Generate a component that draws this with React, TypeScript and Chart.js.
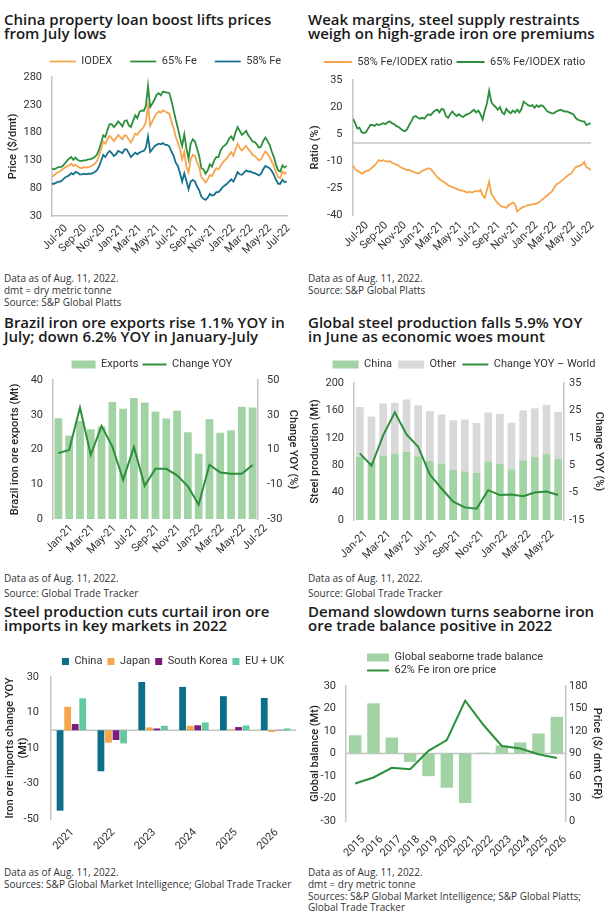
import React, { useEffect, useRef } from "react";
import { Chart, registerables } from "chart.js";
Chart.register(...registerables);

const FONT = "Roboto, 'Liberation Sans', Arial, sans-serif";
const TEXT_FONT = "'Open Sans', Roboto, Arial, sans-serif";
Chart.defaults.font.family = FONT;
Chart.defaults.font.size = 11;
Chart.defaults.color = "#333333";

const ORANGE = "#f6a54c";
const GREEN = "#2c8f3b";
const TEAL = "#17718c";
const LIGHT_GREEN = "#a2d3a4";
const GRAY_BAR = "#d9d9d9";
const AXIS = "#c4c4c4";
const CN_BLUE = "#0b6f89";
const JP_ORANGE = "#f5a54b";
const KR_PURPLE = "#7b1e7b";
const EU_MINT = "#63c9a0";

// ---------- Panel 1: weekly prices ($/dmt), from 1 Jul 2020 ----------
const WEEK_STEP_DAYS = 7;
const IODEX = [101,103,107,109,111,114,117,119,121,124,120,122,119,117,116,118,117,118,119,121,124,128,138,150,164,160,168,174,170,165,170,176,172,168,175,174,167,162,170,178,176,182,186,190,200,228,192,200,208,214,218,216,220,218,216,214,200,188,172,162,150,132,145,118,108,132,140,138,126,118,100,96,90,96,104,102,110,116,114,120,126,130,134,140,145,138,150,160,152,148,152,156,150,146,140,138,134,130,132,140,146,142,136,128,120,108,100,98,110,106,108];
const FE65 = [115,114,116,118,118,120,124,129,133,136,131,135,131,129,129,130,130,132,132,134,136,140,149,161,175,172,185,195,195,190,194,200,196,191,201,202,193,190,201,211,206,217,220,219,228,264,226,232,239,248,251,247,254,253,252,251,237,220,203,188,170,156,177,152,133,160,168,164,151,138,116,114,106,112,123,119,130,136,136,148,154,157,161,169,173,167,180,190,183,176,179,183,175,170,164,163,159,153,155,165,171,165,158,146,136,122,112,110,121,117,120];
const FE58 = [88,88,90,92,92,95,99,101,103,107,105,109,108,105,105,106,105,106,106,107,109,112,119,129,140,136,143,147,143,138,141,147,145,143,150,150,143,136,140,144,141,144,146,147,153,173,145,150,155,158,160,159,161,158,158,155,146,138,126,120,107,92,107,93,78,92,95,92,83,76,65,61,59,63,70,67,68,73,73,77,82,85,88,92,96,92,100,109,105,104,108,112,110,110,108,107,105,103,106,114,120,118,116,111,104,95,88,88,95,91,92];
const DATE_TICKS = ["Jul-20","Sep-20","Nov-20","Jan-21","Mar-21","May-21","Jul-21","Sep-21","Nov-21","Jan-22","Mar-22","May-22","Jul-22"];

// ---------- Panel 2: weekly ratios (%) ----------
const R58 = [-12.5,-14.5,-15.5,-16,-17,-16.5,-15.5,-15.5,-14.5,-13.5,-12.5,-11,-9.5,-10,-9.5,-10,-10.5,-10,-11,-11.5,-12,-12.5,-13.5,-14,-14.5,-15,-15,-15.5,-16,-16.5,-17,-16.5,-15.5,-15,-14.5,-14,-14.5,-16,-17.5,-19,-20,-21,-21.5,-22.5,-23.5,-24,-24.5,-25,-25.5,-26,-26.5,-26.5,-27,-27.5,-27,-27.5,-27,-26.5,-27,-26,-29,-30.5,-26,-21.5,-28,-30,-32,-33.5,-34.5,-35.5,-35.5,-36,-34.5,-34,-33,-34,-38,-37,-36,-35.5,-35,-34.5,-34.5,-34,-34,-33.5,-33,-32,-31,-30,-29,-28,-27,-25,-23,-22.5,-21.5,-20.5,-19.5,-18.5,-17.5,-17,-15,-13.5,-13,-12.5,-12,-10.5,-13.5,-14,-15];
const R65 = [13.5,11,8,8.5,6,5.5,6,8,10,10,9.5,10.5,10,10.5,11,10.5,11.5,12,11,10.5,9.5,9,8,7,6.5,7.5,10,12,14.5,15,14,13.5,14,13.5,15,16,15.5,17,18,18.5,17,19,18.5,15,14,16,17.5,16,15,16,15,14.5,15.5,16,16.5,17.5,18.5,17,18,16,13,18,22,29,23,21,20,18.5,20,17,16,19,17.5,16.5,18,17,18.5,17,19,23,22,21,20.5,21,19.5,21,20,21,20.5,19,17.5,17,16.5,16.5,17.5,18,18.5,18,17.5,17.5,17,16.5,16,14,13,12.5,12,12,10,10.5,11];

// ---------- Panel 3: Brazil exports ----------
const BR_MONTHS = ["Jan-21","Feb-21","Mar-21","Apr-21","May-21","Jun-21","Jul-21","Aug-21","Sep-21","Oct-21","Nov-21","Dec-21","Jan-22","Feb-22","Mar-22","Apr-22","May-22","Jun-22","Jul-22"];
const BR_EXPORTS = [29,24,28.2,25.8,26.6,33.7,31.7,34.8,33.5,30.9,28.9,31.2,25,18.8,28.7,24.8,25.5,32.3,32.1];
const BR_YOY = [7.9,9.8,34.1,6.9,23.6,11.7,-7.4,11.3,-10.9,-1.1,-1.1,-4.9,-11.2,-21.8,1.2,-3.2,-4,-4,1.1];

// ---------- Panel 4: steel production ----------
const ST_MONTHS = ["Jan-21","Feb-21","Mar-21","Apr-21","May-21","Jun-21","Jul-21","Aug-21","Sep-21","Oct-21","Nov-21","Dec-21","Jan-22","Feb-22","Mar-22","Apr-22","May-22","Jun-22"];
const ST_CHINA = [92,85,94,97,99.5,93,86,82.5,73,71,69,85.5,82.5,74,87,92,96,89];
const ST_OTHER = [73,66,76,74,76.5,74.5,73,71.5,72.6,75.6,72.7,71.5,72.5,68,73,71,72,69];
const ST_YOY = [9.3,4.8,15.9,24.3,16.2,11.7,1.6,-3.5,-8.3,-10.4,-10.9,-4.1,-5.9,-5.7,-6.3,-5,-4.6,-5.9];

// ---------- Panel 5: imports change ----------
const IMP_YEARS = ["2021","2022","2023","2024","2025","2026"];
const IMP_CHINA = [-45.3,-23.1,27.2,24.4,19.2,18.2];
const IMP_JAPAN = [13.2,-7,1.6,2.5,0.4,-1];
const IMP_KOREA = [3.5,-5.5,1,2.8,1.8,0.2];
const IMP_EUUK = [18,-7.4,2.5,4.4,2.7,1];

// ---------- Panel 6: seaborne balance ----------
const BAL_YEARS = ["2015","2016","2017","2018","2019","2020","2021","2022","2023","2024","2025","2026"];
const BAL_MT = [8.1,22.3,7.1,-3.7,-10.1,-15.2,-22,0.4,3.6,4.9,8.9,16.3];
const BAL_PRICE = [50,58,71,69,93.5,108,160.4,128,100,96.7,89,84];

const MONTHS: Record<string, number> = { Jan: 0, Feb: 1, Mar: 2, Apr: 3, May: 4, Jun: 5, Jul: 6, Aug: 7, Sep: 8, Oct: 9, Nov: 10, Dec: 11 };
const dayOf = (label: string) => {
  const [m, y] = label.split("-");
  return (Date.UTC(2000 + Number(y), MONTHS[m], 1) - Date.UTC(2020, 6, 1)) / 86400000;
};
const weekly = (arr: number[]) => arr.map((v, i) => ({ x: i * WEEK_STEP_DAYS, y: v }));

const legendShift = {
  id: "legendShift",
  afterLayout(chart: any, _a: any, opts: any) {
    const lg = chart.legend;
    if (!lg || !opts) return;
    const dx = opts.dx || 0, dy = opts.dy || 0;
    lg.left += dx; lg.right += dx; lg.top += dy; lg.bottom += dy;
  },
};
const zeroLine = {
  id: "zeroLine",
  beforeDatasetsDraw(chart: any, _a: any, opts: any) {
    if (!opts || !opts.axis) return;
    const s = chart.scales[opts.axis];
    const y = s.getPixelForValue(0);
    const { left, right } = chart.chartArea;
    const ctx = chart.ctx;
    ctx.save();
    ctx.strokeStyle = AXIS;
    ctx.lineWidth = 1.5;
    ctx.beginPath();
    ctx.moveTo(left, y);
    ctx.lineTo(right, y);
    ctx.stroke();
    ctx.restore();
  },
};

const fixW = (w: number) => (s: any) => { s.width = w; };
const fixH = (h: number) => (s: any) => { s.height = h; };
const noGrid = { display: false, drawTicks: false };
const border = { display: true, color: AXIS, width: 1.5 };
const noBorder = { display: false };
const yTitle = (text: any, pad: number) => ({
  display: true, text, color: "#262626",
  font: { size: 11, weight: "500" as any }, padding: { top: pad, bottom: 0 },
});
const legendLabels = (extra: any) => ({
  usePointStyle: true, color: "#333333", font: { size: 11 }, ...extra,
});
const rotTicks = (pad: number, offset: number, extra: any = {}) => ({
  autoSkip: false, maxRotation: 45, minRotation: 45, padding: pad, labelOffset: offset, color: "#333333", font: { size: 11 }, ...extra,
});
const byIndex = (a: any, b: any) => a.datasetIndex - b.datasetIndex;

const dateAxis = (pad: number) => ({
  type: "linear", min: 0, max: 771,
  grid: noGrid,
  afterBuildTicks: (s: any) => { s.ticks = DATE_TICKS.map((l) => ({ value: dayOf(l) })); },
  ticks: rotTicks(pad, 14, { callback: (_v: any, i: number) => DATE_TICKS[i] }),
  afterFit: fixH(45),
});

function makeP1(): any {
  return {
    type: "line",
    data: {
      datasets: [
        { label: "IODEX", data: weekly(IODEX), borderColor: ORANGE, backgroundColor: ORANGE, borderWidth: 1.8, pointRadius: 0, pointStyle: "line" },
        { label: "65% Fe", data: weekly(FE65), borderColor: GREEN, backgroundColor: GREEN, borderWidth: 1.8, pointRadius: 0, pointStyle: "line" },
        { label: "58% Fe", data: weekly(FE58), borderColor: TEAL, backgroundColor: TEAL, borderWidth: 1.8, pointRadius: 0, pointStyle: "line" },
      ],
    },
    options: {
      responsive: false, animation: false,
      layout: { padding: { left: 0, right: 17, top: 0, bottom: 0 } },
      plugins: {
        legend: { labels: legendLabels({ pointStyleWidth: 26, boxHeight: 11, padding: 18 }) },
        tooltip: { enabled: false },
        legendShift: { dx: 22, dy: 0 },
      },
      scales: {
        x: { ...dateAxis(6), border },
        y: { min: 30, max: 280, grid: noGrid, border, ticks: { stepSize: 50, padding: 10 }, title: yTitle("Price ($/dmt)", 6.4), afterFit: fixW(52) },
      },
    },
    plugins: [legendShift],
  };
}

function makeP2(): any {
  return {
    type: "line",
    data: {
      datasets: [
        { label: "58% Fe/IODEX ratio", data: weekly(R58), borderColor: ORANGE, backgroundColor: ORANGE, borderWidth: 1.8, pointRadius: 0, pointStyle: "line" },
        { label: "65% Fe/IODEX ratio", data: weekly(R65), borderColor: GREEN, backgroundColor: GREEN, borderWidth: 1.8, pointRadius: 0, pointStyle: "line" },
      ],
    },
    options: {
      responsive: false, animation: false,
      layout: { padding: { left: 0, right: 17, top: 0, bottom: 0 } },
      plugins: {
        legend: { labels: legendLabels({ pointStyleWidth: 28, boxHeight: 11, padding: 4 }) },
        tooltip: { enabled: false },
        legendShift: { dx: 7, dy: -2.5 },
        zeroLine: { axis: "y" },
      },
      scales: {
        x: { ...dateAxis(4), border: noBorder },
        y: { min: -40, max: 35, grid: noGrid, border, ticks: { stepSize: 15, padding: 10.5 }, title: yTitle("Ratio (%)", 5), afterFit: fixW(49) },
      },
    },
    plugins: [legendShift, zeroLine],
  };
}

function makeP3(): any {
  return {
    type: "bar",
    data: {
      labels: BR_MONTHS,
      datasets: [
        { type: "bar", label: "Exports", data: BR_EXPORTS, backgroundColor: LIGHT_GREEN, pointStyle: "rect", barPercentage: 0.72, categoryPercentage: 1, yAxisID: "y", order: 2 },
        { type: "line", label: "Change YOY", data: BR_YOY, borderColor: GREEN, backgroundColor: GREEN, borderWidth: 2, pointRadius: 0, pointStyle: "line", yAxisID: "y1", order: 1 },
      ],
    },
    options: {
      responsive: false, animation: false,
      layout: { padding: 0 },
      plugins: {
        legend: { labels: legendLabels({ pointStyleWidth: 24, boxHeight: 8, padding: 4, sort: byIndex }) },
        tooltip: { enabled: false },
        legendShift: { dx: 0, dy: 0 },
      },
      scales: {
        x: { grid: noGrid, border: noBorder, ticks: rotTicks(3, 13, { callback: (_v: any, i: number) => (i % 2 === 0 ? BR_MONTHS[i] : "") }), afterFit: fixH(45) },
        y: { position: "left", min: 0, max: 40, grid: noGrid, border, ticks: { stepSize: 10, padding: 10 }, title: yTitle("Brazil iron ore exports (Mt)", 8.4), afterFit: fixW(53) },
        y1: { position: "right", min: -30, max: 50, grid: noGrid, border, ticks: { stepSize: 20, padding: 9 }, title: yTitle("Change YOY (%)", 4.4), afterFit: fixW(46) },
      },
    },
    plugins: [legendShift],
  };
}

function makeP4(): any {
  return {
    type: "bar",
    data: {
      labels: ST_MONTHS,
      datasets: [
        { type: "bar", label: "China", data: ST_CHINA, backgroundColor: LIGHT_GREEN, pointStyle: "rect", barPercentage: 0.66, categoryPercentage: 1, yAxisID: "y", stack: "s", order: 2 },
        { type: "bar", label: "Other", data: ST_OTHER, backgroundColor: GRAY_BAR, pointStyle: "rect", barPercentage: 0.66, categoryPercentage: 1, yAxisID: "y", stack: "s", order: 2 },
        { type: "line", label: "Change YOY \u2013 World", data: ST_YOY, borderColor: GREEN, backgroundColor: GREEN, borderWidth: 2, pointRadius: 0, pointStyle: "line", yAxisID: "y1", order: 1 },
      ],
    },
    options: {
      responsive: false, animation: false,
      layout: { padding: 0 },
      plugins: {
        legend: { labels: legendLabels({ pointStyleWidth: 26, boxHeight: 8, padding: 6, sort: byIndex }) },
        tooltip: { enabled: false },
        legendShift: { dx: 8, dy: -3 },
      },
      scales: {
        x: { stacked: true, grid: noGrid, border: noBorder, ticks: rotTicks(8, 6, { callback: (_v: any, i: number) => (i % 2 === 0 ? ST_MONTHS[i] : "") }), afterFit: fixH(45) },
        y: { stacked: true, position: "left", min: 0, max: 200, grid: noGrid, border, ticks: { stepSize: 40, padding: 10 }, title: yTitle("Steel production (Mt)", 5), afterFit: fixW(50) },
        y1: { position: "right", min: -15, max: 35, grid: noGrid, border, ticks: { stepSize: 10, padding: 5 }, title: yTitle("Change YOY (%)", 2.4), afterFit: fixW(44) },
      },
    },
    plugins: [legendShift],
  };
}

function makeP5(): any {
  const ds = (label: string, data: number[], color: string) => ({
    label, data, backgroundColor: color, pointStyle: "rect", barPercentage: 0.9, categoryPercentage: 0.74,
  });
  return {
    type: "bar",
    data: {
      labels: IMP_YEARS,
      datasets: [
        ds("China", IMP_CHINA, CN_BLUE),
        ds("Japan", IMP_JAPAN, JP_ORANGE),
        ds("South Korea", IMP_KOREA, KR_PURPLE),
        ds("EU + UK", IMP_EUUK, EU_MINT),
      ],
    },
    options: {
      responsive: false, animation: false,
      layout: { padding: { left: 0, right: 8, top: 0, bottom: 0 } },
      plugins: {
        legend: { labels: legendLabels({ pointStyleWidth: 7, boxHeight: 7, padding: 5 }) },
        tooltip: { enabled: false },
        legendShift: { dx: 25, dy: 0 },
        zeroLine: { axis: "y" },
      },
      scales: {
        x: { grid: noGrid, border: noBorder, ticks: rotTicks(7, 1), afterFit: fixH(40) },
        y: { min: -50, max: 30, grid: noGrid, border, ticks: { stepSize: 20, padding: 12 }, title: yTitle(["Iron ore imports change YOY", "(Mt)"], 3.4), afterFit: fixW(51) },
      },
    },
    plugins: [legendShift, zeroLine],
  };
}

function makeP6(): any {
  return {
    type: "bar",
    data: {
      labels: BAL_YEARS,
      datasets: [
        { type: "bar", label: "Global seaborne trade balance", data: BAL_MT, backgroundColor: LIGHT_GREEN, pointStyle: "rect", barPercentage: 0.68, categoryPercentage: 1, yAxisID: "y", order: 2 },
        { type: "line", label: "62% Fe iron ore price", data: BAL_PRICE, borderColor: GREEN, backgroundColor: GREEN, borderWidth: 2, pointRadius: 0, pointStyle: "line", yAxisID: "y1", order: 1 },
      ],
    },
    options: {
      responsive: false, animation: false,
      layout: { padding: 0 },
      plugins: {
        legend: { align: "start", labels: legendLabels({ pointStyleWidth: 22, boxHeight: 8, padding: 2, sort: byIndex }) },
        tooltip: { enabled: false },
        legendShift: { dx: 61, dy: 0 },
        zeroLine: { axis: "y" },
      },
      scales: {
        x: { grid: noGrid, border: noBorder, ticks: rotTicks(12, 8), afterFit: fixH(40) },
        y: { position: "left", min: -30, max: 30, grid: noGrid, border, ticks: { stepSize: 10, padding: 10 }, title: yTitle("Global balance (Mt)", 5), afterFit: fixW(42) },
        y1: { position: "right", min: 0, max: 180, grid: noGrid, border, ticks: { stepSize: 30, padding: 3 }, title: yTitle("Price ($/ dmt CFR)", 4.4), afterFit: fixW(42) },
      },
    },
    plugins: [legendShift, zeroLine],
  };
}

function ChartBox({ x, y, w, h, make }: { x: number; y: number; w: number; h: number; make: () => any }) {
  const ref = useRef<HTMLCanvasElement>(null);
  useEffect(() => {
    const chart = new Chart(ref.current as HTMLCanvasElement, make());
    return () => chart.destroy();
  }, []);
  return <canvas ref={ref} width={w} height={h} style={{ position: "absolute", left: x, top: y, width: w, height: h }} />;
}

function Title({ x, y, lines }: { x: number; y: number; lines: string[] }) {
  return (
    <div style={{ position: "absolute", left: x, top: y, fontFamily: TEXT_FONT, fontSize: 15, fontWeight: 600, lineHeight: "14.6px", color: "#1a1a1a", whiteSpace: "nowrap" }}>
      {lines.map((l, i) => <div key={i}>{l}</div>)}
    </div>
  );
}

function Note({ x, y, text }: { x: number; y: number; text: string }) {
  return (
    <div style={{ position: "absolute", left: x, top: y - 6, fontFamily: TEXT_FONT, fontSize: 10, lineHeight: "12px", color: "#333333", whiteSpace: "nowrap" }}>
      {text}
    </div>
  );
}

export default function App() {
  return (
    <div style={{ position: "absolute", left: 0, top: 0, width: 608, height: 922, background: "#ffffff", overflow: "hidden" }}>
      <Title x={4} y={11.8} lines={["China property loan boost lifts prices", "from July lows"]} />
      <Title x={308} y={11.8} lines={["Weak margins, steel supply restraints", "weigh on high-grade iron ore premiums"]} />
      <Title x={4} y={314.8} lines={["Brazil iron ore exports rise 1.1% YOY in", "July; down 6.2% YOY in January-July"]} />
      <Title x={308} y={314.8} lines={["Global steel production falls 5.9% YOY", "in June as economic woes mount"]} />
      <Title x={4} y={603.8} lines={["Steel production cuts curtail iron ore", "imports in key markets in 2022"]} />
      <Title x={308} y={603.8} lines={["Demand slowdown turns seaborne iron", "ore trade balance positive in 2022"]} />

      <ChartBox x={0} y={38} w={304} h={223} make={makeP1} />
      <ChartBox x={304} y={55} w={304} h={205} make={makeP2} />
      <ChartBox x={0} y={355} w={304} h={209} make={makeP3} />
      <ChartBox x={304} y={356} w={304} h={209} make={makeP4} />
      <ChartBox x={0} y={651} w={304} h={208} make={makeP5} />
      <ChartBox x={304} y={650} w={304} h={211} make={makeP6} />

      <Note x={4} y={278} text="Data as of Aug. 11, 2022." />
      <Note x={4} y={290} text="dmt = dry metric tonne" />
      <Note x={4} y={302} text="Source: S&P Global Platts" />
      <Note x={308} y={278} text="Data as of Aug. 11, 2022." />
      <Note x={308} y={290} text="Source: S&P Global Platts" />
      <Note x={4} y={578} text="Data as of Aug. 11, 2022." />
      <Note x={4} y={593} text="Source: Global Trade Tracker" />
      <Note x={308} y={578} text="Data as of Aug. 11, 2022." />
      <Note x={308} y={593} text="Source: Global Trade Tracker" />
      <Note x={4} y={872} text="Data as of Aug. 11, 2022." />
      <Note x={4} y={884} text="Sources: S&P Global Market Intelligence; Global Trade Tracker" />
      <Note x={308} y={872} text="Data as of Aug. 11, 2022." />
      <Note x={308} y={884} text="dmt = dry metric tonne" />
      <Note x={308} y={896} text="Sources: S&P Global Market Intelligence; S&P Global Platts;" />
      <Note x={308} y={907} text="Global Trade Tracker" />
    </div>
  );
}
